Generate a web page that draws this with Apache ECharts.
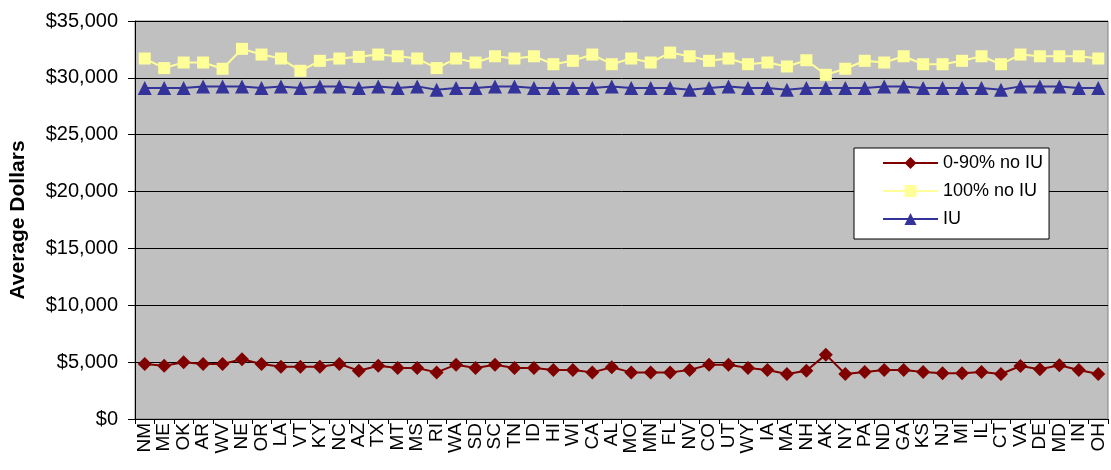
<!DOCTYPE html>
<html><head><meta charset="utf-8">
<script src="https://cdn.jsdelivr.net/npm/echarts@6/dist/echarts.min.js"></script>
<style>html,body{margin:0;padding:0;background:#fff}#c{width:1111px;height:470px}</style>
</head><body><div id="c"></div>
<script>
const categories = ["NM","ME","OK","AR","WV","NE","OR","LA","VT","KY","NC","AZ","TX","MT","MS","RI","WA","SD","SC","TN","ID","HI","WI","CA","AL","MO","MN","FL","NV","CO","UT","WY","IA","MA","NH","AK","NY","PA","ND","GA","KS","NJ","MI","IL","CT","VA","DE","MD","IN","OH"];
const low90 = [4840,4690,4990,4840,4840,5250,4840,4600,4600,4600,4840,4250,4690,4490,4490,4100,4780,4490,4780,4490,4490,4310,4310,4100,4550,4100,4100,4100,4310,4780,4780,4490,4300,3960,4250,5660,3960,4130,4310,4310,4130,4020,4020,4130,3960,4660,4370,4720,4310,3960];
const full100 = [31700,30860,31350,31350,30800,32550,32050,31700,30620,31500,31700,31850,32050,31900,31700,30860,31700,31350,31900,31700,31900,31200,31500,32050,31200,31700,31350,32220,31900,31500,31700,31200,31350,31000,31550,30270,30800,31500,31350,31900,31200,31200,31500,31900,31200,32050,31900,31900,31900,31700];
const iu = [29100,29100,29100,29250,29250,29250,29100,29250,29100,29250,29250,29100,29250,29100,29250,28950,29100,29100,29250,29250,29100,29100,29100,29100,29250,29100,29100,29100,28950,29100,29250,29100,29100,28950,29100,29100,29100,29100,29250,29250,29100,29100,29100,29100,28950,29250,29250,29250,29100,29100];
const yTicks = {min:0, max:35000, interval:5000};

const chart = echarts.init(document.getElementById('c'), null, {renderer:'canvas'});
const font = 'Arial, "Liberation Sans", sans-serif';
chart.setOption({
  animation:false,
  backgroundColor:'#fff',
  textStyle:{fontFamily:font},
  grid:{left:135,right:3,top:21,bottom:51,show:true,backgroundColor:'#C0C0C0',borderColor:'#808080',borderWidth:1},
  legend:{
    orient:'vertical', left:854, top:148,
    backgroundColor:'#fff', borderColor:'#000', borderWidth:1,
    padding:[6,6,11,28], itemGap:10, itemWidth:55, itemHeight:15,
    textStyle:{fontSize:18,color:'#000',fontFamily:font},
    data:['0-90% no IU','100% no IU','IU']
  },
  xAxis:{
    type:'category', data:categories, boundaryGap:true,
    axisLine:{lineStyle:{color:'#000',width:1}},
    axisTick:{show:true,length:5,interval:0,lineStyle:{color:'#000'}},
    axisLabel:{rotate:90,interval:0,fontSize:19,color:'#000',margin:4,fontFamily:font}
  },
  yAxis:{
    type:'value', min:yTicks.min, max:yTicks.max, interval:yTicks.interval,
    name:'Average Dollars', nameLocation:'middle', nameGap:106,
    nameTextStyle:{fontSize:21,fontWeight:'bold',color:'#000',fontFamily:font},
    axisLine:{show:true,lineStyle:{color:'#000'}},
    axisTick:{show:true,length:7,lineStyle:{color:'#000'}},
    splitLine:{show:true,lineStyle:{color:'#000',width:1}},
    axisLabel:{fontSize:20,color:'#000',margin:17,fontFamily:font,
      formatter:v=>'$'+v.toLocaleString('en-US')}
  },
  series:[
    {name:'0-90% no IU',type:'line',data:low90,symbol:'diamond',symbolSize:14,
     lineStyle:{color:'#800000',width:2},itemStyle:{color:'#800000'}},
    {name:'100% no IU',type:'line',data:full100,symbol:'rect',symbolSize:12,
     lineStyle:{color:'#FFFF99',width:2},itemStyle:{color:'#FFFF99'}},
    {name:'IU',type:'line',data:iu,symbol:'triangle',symbolSize:14,
     lineStyle:{color:'#333399',width:2},itemStyle:{color:'#333399'}}
  ]
});
</script></body></html>
